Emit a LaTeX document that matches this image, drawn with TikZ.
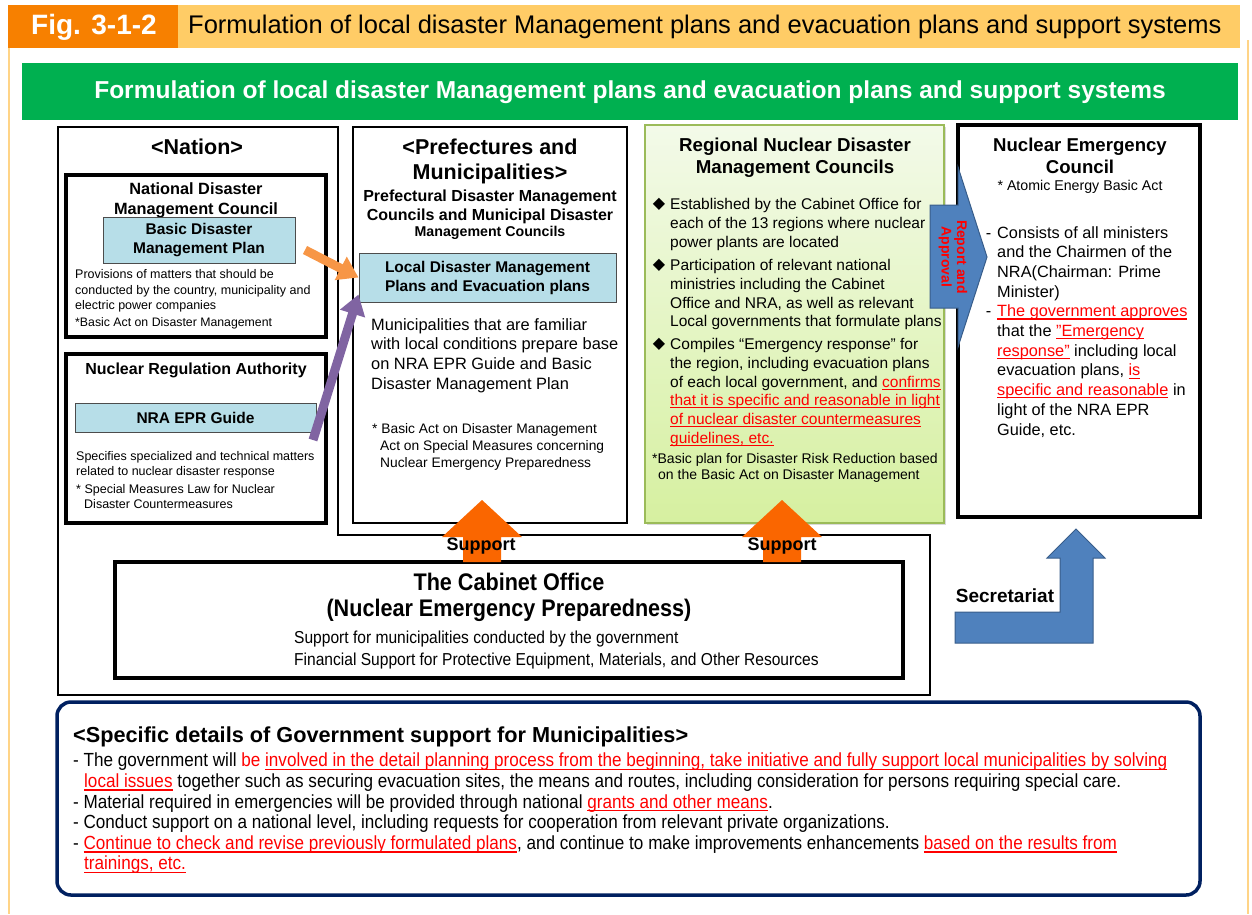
\documentclass[tikz,border=0pt]{standalone}
\usepackage{fontspec}
\setmainfont{Liberation Sans}
\newfontfamily\narrowfont[FakeStretch=0.9]{Liberation Sans}
\newfontfamily\symbolfont{DejaVu Sans}
\usetikzlibrary{arrows.meta,positioning,calc,shadows}

\definecolor{figorange}{RGB}{247,128,0}
\definecolor{headbar}{RGB}{255,204,102}
\definecolor{framecol}{RGB}{255,212,135}
\definecolor{bannergreen}{RGB}{0,176,80}
\definecolor{planblue}{RGB}{183,222,232}
\definecolor{councilgreen}{RGB}{155,187,89}
\definecolor{councilfilltop}{RGB}{243,250,233}
\definecolor{councilfillbot}{RGB}{214,240,160}
\definecolor{arrowblue}{RGB}{79,129,189}
\definecolor{arrowblueedge}{RGB}{56,93,138}
\definecolor{supportorange}{RGB}{250,102,0}
\definecolor{planorange}{RGB}{247,150,70}
\definecolor{guidepurple}{RGB}{128,100,162}
\definecolor{alertred}{RGB}{255,0,0}
\definecolor{navyline}{RGB}{0,32,96}

\newsavebox\ulbox
\newcommand{\redul}[1]{\textcolor{alertred}{\sbox\ulbox{#1}\rlap{\rule[-0.17em]{\wd\ulbox}{0.07em}}\usebox\ulbox}}

\begin{document}
\begin{tikzpicture}[x=1pt,y=-1pt,
    heavybox/.style={draw=black,line width=3.5pt,inner sep=0pt},
    lightbox/.style={draw=black,line width=1.6pt,inner sep=0pt},
    planbox/.style={draw=black!70,fill=planblue,line width=1pt,align=center,inner sep=0pt,
      font=\bfseries\fontsize{15.5}{19}\selectfont},
    blocktext/.style={anchor=north west,align=left,inner sep=0pt},
    titletext/.style={anchor=north,align=center,inner sep=0pt},
    bullet/.style={font=\symbolfont\fontsize{16}{16}\selectfont,inner sep=0pt},
    bigarrow/.style={fill=arrowblue,draw=arrowblueedge,line width=1pt},
    supportarrow/.style={fill=supportorange},
    planlink/.style={line width=9pt,-{Triangle[length=20pt,width=25pt]}}
  ]
  \useasboundingbox (0,0) rectangle (1252,914);

  % frame and headings
  \draw[framecol,line width=2.5pt] (9,40) -- (9,914);
  \draw[framecol,line width=2.5pt] (1248,40) -- (1248,914);
  \fill[headbar] (178,5) rectangle (1240,48);
  \fill[figorange] (8,5) rectangle (178,48);
  \node[text=white,font=\bfseries\fontsize{28}{30}\selectfont] (fig) at (94,27) {Fig. 3-1-2};
  \node[anchor=west,inner sep=0pt,font=\fontsize{25.5}{27}\selectfont] (figtitle) at (188,27)
    {Formulation of local disaster Management plans and evacuation plans and support systems};
  \fill[bannergreen] (22,63) rectangle (1238,120);
  \node[text=white,font=\bfseries\fontsize{24.5}{26}\selectfont] (banner) at (630,92)
    {Formulation of local disaster Management plans and evacuation plans and support systems};

  % nation
  \draw[black,line width=1.5pt] (58,127) -- (338,127) -- (338,535) -- (930,535) -- (930,695) -- (58,695) -- cycle;
  \node[font=\bfseries\fontsize{21.5}{24}\selectfont] (nation) at (197,147) {<Nation>};

  \node[heavybox,minimum width=260pt,minimum height=162pt] (ndmc) at (196,256) {};
  \node[titletext,font=\bfseries\fontsize{16.3}{20}\selectfont] (ndmctitle) at (196,182)
    {National Disaster\\Management Council};
  \node[planbox,minimum width=192pt,minimum height=46pt] (bdmp) at (199,240) {Basic Disaster\\Management Plan};
  \node[blocktext,font=\fontsize{12.5}{15.5}\selectfont] (ndmcnote) at (75,269.4)
    {Provisions of matters that should be\\conducted by the country, municipality and\\electric power companies};
  \node[anchor=west,inner sep=0pt,font=\fontsize{12.3}{14}\selectfont] (ndmcact) at (75,323)
    {*Basic Act on Disaster Management};

  \node[heavybox,minimum width=260pt,minimum height=169pt] (nra) at (196,438.5) {};
  \node[font=\bfseries\fontsize{16}{18}\selectfont] (nratitle) at (196,370) {Nuclear Regulation Authority};
  \node[planbox,minimum width=241pt,minimum height=29pt] (eprguide) at (195.5,417.5) {NRA EPR Guide};
  \node[blocktext,font=\fontsize{12.5}{15}\selectfont] (nranote) at (76,451.4)
    {Specifies specialized and technical matters\\related to nuclear disaster response};
  \node[blocktext,font=\fontsize{12.5}{15}\selectfont] (nraact) at (76,484.4)
    {* Special Measures Law for Nuclear\\\hspace*{8pt}Disaster Countermeasures};

  % prefectures and municipalities
  \node[lightbox,minimum width=274pt,minimum height=396pt] (pref) at (490,325) {};
  \node[titletext,font=\bfseries\fontsize{21.5}{25}\selectfont] (preftitle) at (490,139)
    {<Prefectures and\\Municipalities>};
  \node[titletext,font=\bfseries\fontsize{16}{19}\selectfont] (prefsub) at (490,190.1)
    {Prefectural Disaster Management\\Councils and Municipal Disaster};
  \node[font=\bfseries\fontsize{14.2}{16}\selectfont] (prefsubend) at (490,233) {Management Councils};
  \node[planbox,minimum width=257pt,minimum height=49pt] (ldmp) at (487.5,277.5)
    {Local Disaster Management\\Plans and Evacuation plans};
  \node[blocktext,font=\fontsize{16.4}{19.7}\selectfont] (prefbody) at (371,318)
    {Municipalities that are familiar\\with local conditions prepare base\\on NRA EPR Guide and Basic\\Disaster Management Plan};
  \node[blocktext,font=\fontsize{13.8}{17}\selectfont] (prefact) at (372,422.9)
    {* Basic Act on Disaster Management\\\hspace*{8pt}Act on Special Measures concerning\\\hspace*{8pt}Nuclear Emergency Preparedness};

  % regional councils
  \node[draw=councilgreen,line width=2.5pt,top color=councilfilltop,bottom color=councilfillbot,
    minimum width=299pt,minimum height=398pt,inner sep=0pt,
    drop shadow={opacity=0.3,shadow xshift=2pt,shadow yshift=-2pt}] (rndmc) at (794.5,324) {};
  \node[titletext,font=\bfseries\fontsize{18.7}{22}\selectfont] (rndmctitle) at (795,138)
    {Regional Nuclear Disaster\\Management Councils};
  \node[bullet] (dia1) at (659,204) {◆};
  \node[bullet] (dia2) at (659,265) {◆};
  \node[bullet] (dia3) at (659,344) {◆};
  \node[blocktext,font=\fontsize{15.5}{18.7}\selectfont] (rndmc1) at (670,198.3)
    {Established by the Cabinet Office for\\each of the 13 regions where nuclear\\power plants are located};
  \node[blocktext,font=\fontsize{15.5}{18.7}\selectfont] (rndmc2) at (670,259.3)
    {Participation of relevant national\\ministries including the Cabinet\\Office and NRA, as well as relevant\\Local governments that formulate plans};
  \node[blocktext,font=\fontsize{15.5}{18.7}\selectfont] (rndmc3) at (670,338.3)
    {Compiles “Emergency response” for\\the region, including evacuation plans\\of each local government, and \redul{confirms}\\\redul{that it is specific and reasonable in light}\\\redul{of nuclear disaster countermeasures}\\\redul{guidelines, etc.}};
  \node[blocktext,font=\fontsize{14}{16}\selectfont] (rndmcact) at (652,452.8)
    {*Basic plan for Disaster Risk Reduction based\\\hspace*{6pt}on the Basic Act on Disaster Management};

  % nuclear emergency council
  \node[heavybox,line width=4pt,minimum width=242pt,minimum height=392pt] (nec) at (1079,321) {};
  \node[titletext,font=\bfseries\fontsize{18.6}{22}\selectfont] (nectitle) at (1080,138.1)
    {Nuclear Emergency\\Council};
  \node[font=\fontsize{14.2}{16}\selectfont] (necact) at (1080,187) {* Atomic Energy Basic Act};
  \node[blocktext,font=\fontsize{16.3}{19.7}\selectfont] (necbody) at (997,226)
    {\llap{-\hspace*{6pt}}Consists of all ministers\\and the Chairmen of the\\NRA(Chairman: Prime\\Minister)\\\llap{-\hspace*{6pt}}\redul{The government approves}\\that the \redul{"Emergency}\\\redul{response"} including local\\evacuation plans, \redul{is}\\\redul{specific and reasonable} in\\light of the NRA EPR\\Guide, etc.};

  \filldraw[bigarrow] (930,205) -- (958,205) -- (958,167) -- (987,257) -- (958,347) -- (958,308) -- (930,308) -- cycle;
  \node[rotate=-90,text=alertred,align=center,inner sep=0pt,font=\bfseries\fontsize{14}{15.5}\selectfont] (report) at (953,257)
    {Report and\\Approval};

  % cabinet office
  \node[heavybox,line width=4pt,minimum width=788pt,minimum height=116pt] (cabinet) at (509,620) {};
  \node[titletext,font=\narrowfont\bfseries\fontsize{24}{26}\selectfont] (cabtitle) at (509,573.1)
    {The Cabinet Office\\(Nuclear Emergency Preparedness)};
  \node[blocktext,font=\narrowfont\fontsize{17.3}{22}\selectfont] (cabbody) at (294,630.6)
    {Support for municipalities conducted by the government\\Financial Support for Protective Equipment, Materials, and Other Resources};

  \fill[supportarrow] (482,500) -- (522,537) -- (501,537) -- (501,562) -- (463,562) -- (463,537) -- (442,537) -- cycle;
  \fill[supportarrow] (782,500) -- (822,537) -- (801,537) -- (801,562) -- (763,562) -- (763,537) -- (742,537) -- cycle;
  \node[font=\bfseries\fontsize{18}{20}\selectfont] (support1) at (481,546) {Support};
  \node[font=\bfseries\fontsize{18}{20}\selectfont] (support2) at (782,546) {Support};

  \filldraw[bigarrow] (955,612) -- (1060,612) -- (1060,558) -- (1047,558) -- (1076,529) -- (1105,558)
    -- (1093,558) -- (1093,643) -- (955,643) -- cycle;
  \node[font=\bfseries\fontsize{19}{20}\selectfont] (secretariat) at (1005,596) {Secretariat};

  % plans feeding the local plans
  \coordinate (bdmptail) at (305,250);
  \coordinate (guidetail) at (313,440);
  \draw[planlink,planorange] (bdmptail) -- (ldmp.west);
  \draw[planlink,guidepurple] (guidetail) -- ([yshift=8pt]ldmp.south west);

  % government support details
  \node[draw=navyline,line width=3.5pt,rounded corners=14pt,minimum width=1143pt,minimum height=193pt,
    inner sep=0pt] (details) at (628.5,798.5) {};
  \node[anchor=west,inner sep=0pt,font=\bfseries\fontsize{21.7}{24}\selectfont] (detailtitle) at (73,737)
    {<Specific details of Government support for Municipalities>};
  \node[blocktext,font=\narrowfont\fontsize{19}{20.6}\selectfont] (detailbody) at (73,753)
    {- The government will \textcolor{alertred}{be} \redul{involved in the detail planning process from the beginning, take initiative and fully support local municipalities by solving}\\
     \hspace*{11pt}\redul{local issues} together such as securing evacuation sites, the means and routes, including consideration for persons requiring special care.\\
     - Material required in emergencies will be provided through national \redul{grants and other means}.\\
     - Conduct support on a national level, including requests for cooperation from relevant private organizations.\\
     - \redul{Continue to check and revise previously formulated plans}, and continue to make improvements enhancements \redul{based on the results from}\\
     \hspace*{11pt}\redul{trainings, etc.}};
\end{tikzpicture}
\end{document}
